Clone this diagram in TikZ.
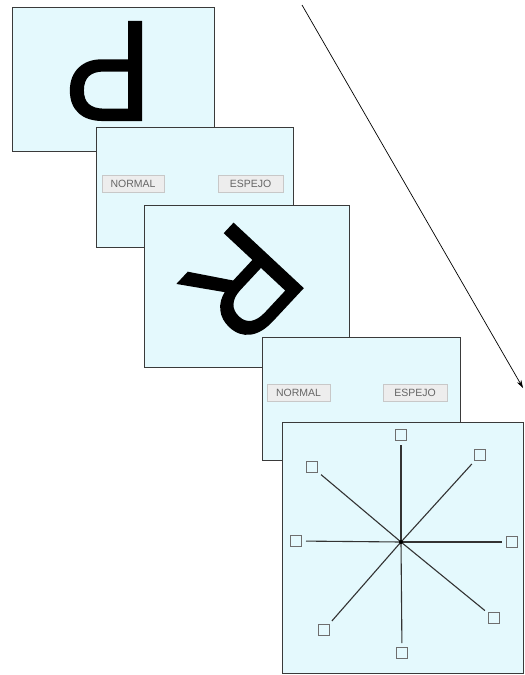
\documentclass[tikz,border=0pt]{standalone}
\usepackage{fontspec}
\setmainfont{Liberation Sans}
\newfontfamily\stimfont{Liberation Sans}[FakeBold=1.2]
\usetikzlibrary{arrows.meta}

\definecolor{cardfill}{HTML}{E4F9FD}
\definecolor{cardline}{HTML}{3A3A3A}
\definecolor{btnfill}{HTML}{EDEDED}
\definecolor{btnline}{HTML}{C8C8C8}
\definecolor{btntext}{HTML}{666666}
\definecolor{sqline}{HTML}{6E6E6E}

\begin{document}
\begin{tikzpicture}[x=1pt, y=-1pt,
  card/.style={draw=cardline, line width=1.3pt, fill=cardfill,
    anchor=north west, inner sep=0pt},
  button/.style={draw=btnline, fill=btnfill, text=btntext, inner sep=0pt,
    minimum height=17pt, font=\fontsize{10.5}{10.5}\selectfont},
  glyph/.style={inner sep=0pt, font=\stimfont\fontsize{143}{143}\selectfont},
  target/.style={draw=sqline, line width=1pt, fill=cardfill,
    minimum size=11pt, inner sep=0pt},
  spoke/.style={draw=black!80, line width=1.1pt, shorten >=4pt}]

\useasboundingbox (0,0) rectangle (525,675);

% ================================================================ the arrow
\coordinate (timeA) at (302,5);
\coordinate (timeB) at (523,388);
\draw[line width=0.7pt, -{Stealth[length=8pt, width=5pt]}] (timeA) -- (timeB);

% ================================================== first stimulus (P, 180)
\node[card, minimum width=202pt, minimum height=144pt] (card1) at (12,7) {};
\node[glyph, rotate=180, xscale=0.93] (letP) at (108,71) {P};

% ================================================== first answer screen
\node[card, minimum width=197pt, minimum height=120pt] (card2) at (96,127) {};
\node[button, minimum width=62pt] (norm1) at (133,183.5) {NORMAL};
\node[button, minimum width=65pt] (mirr1) at (250.5,183.5) {ESPEJO};

% ================================================ second stimulus (R, rotated)
\node[card, minimum width=205pt, minimum height=162pt] (card3) at (144,205) {};
\node[glyph, rotate=-133, scale=0.96] (letR) at (242,284) {R};

% ================================================== second answer screen
\node[card, minimum width=198pt, minimum height=123pt] (card4) at (262,337) {};
\node[button, minimum width=63pt] (norm2) at (298.5,392.5) {NORMAL};
\node[button, minimum width=64pt] (mirr2) at (415,392.5) {ESPEJO};

% ========================================================= response screen
% Eight targets round a centre, joined to it by spokes.
\node[card, minimum width=241pt, minimum height=251pt] (card5) at (282,422) {};
\coordinate (hub) at (401,542);
\foreach \i/\px/\py in {1/401/435, 2/480/455, 3/512/542, 4/494/618,
                        5/402/653, 6/324/630, 7/296/541, 8/312/467} {
  \node[target] (sq\i) at (\px,\py) {};
  \draw[spoke] (hub) -- (sq\i);
}
\fill (hub) circle (2pt);

\end{tikzpicture}
\end{document}
